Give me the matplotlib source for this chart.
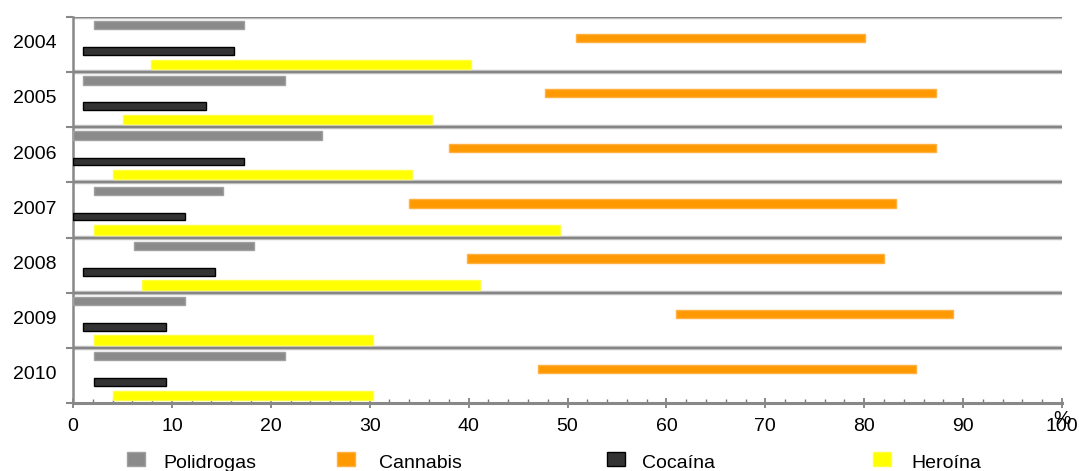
import matplotlib.pyplot as plt
from matplotlib.patches import Rectangle
from matplotlib.ticker import MultipleLocator

plt.rcParams['font.family'] = ['Liberation Sans', 'DejaVu Sans']

# Datos (rango min-max en % por año)
years = ['2004', '2005', '2006', '2007', '2008', '2009', '2010']
series = ['Polidrogas', 'Cannabis', 'Cocaína', 'Heroína']

poli_ini = [2.1, 1.0, 0.0, 2.1, 6.2, 0.0, 2.1]
poli_fin = [17.3, 21.4, 25.2, 15.2, 18.3, 11.3, 21.4]
cann_ini = [50.9, 47.7, 38.0, 34.0, 39.8, 61.0, 47.0]
cann_fin = [80.1, 87.3, 87.3, 83.2, 82.0, 89.0, 85.2]
coca_ini = [1.0, 1.0, 0.0, 0.0, 1.0, 1.0, 2.1]
coca_fin = [16.3, 13.4, 17.3, 11.3, 14.4, 9.4, 9.4]
hero_ini = [7.9, 5.1, 4.0, 2.1, 7.0, 2.1, 4.0]
hero_fin = [40.2, 36.3, 34.3, 49.2, 41.2, 30.3, 30.3]

colores = ['#8a8a8a', '#ff9900', '#333333', '#ffff00']
bordes = ['#a0a0a0', '#ffb040', '#000000', '#ffff40']
offsets = [-0.35, -0.12, 0.12, 0.36]
alturas = [0.15, 0.15, 0.14, 0.17]

fig = plt.figure(figsize=(10.79, 4.71), dpi=100)
ax = fig.add_axes([73 / 1079, 1 - 403 / 471, 989 / 1079, 386 / 471])

datos = [(poli_ini, poli_fin), (cann_ini, cann_fin), (coca_ini, coca_fin), (hero_ini, hero_fin)]
for k, (ini, fin) in enumerate(datos):
    ys = [i + offsets[k] for i in range(len(years))]
    ancho = [f - s for s, f in zip(ini, fin)]
    ax.barh(ys, ancho, left=ini, height=alturas[k], color=colores[k],
            edgecolor=bordes[k], linewidth=1.0, zorder=3)

# lineas de separacion entre años
for b in range(len(years)):
    ax.axhline(b - 0.5, color='#c4c4c4', lw=3.2, zorder=1)
    ax.axhline(b - 0.5, color='#858585', lw=1.6, zorder=2)

ax.set_xlim(0, 100)
ax.set_ylim(len(years) - 0.5, -0.5)

ax.spines['top'].set_visible(False)
ax.spines['right'].set_visible(False)
ax.spines['left'].set_color('#888888')
ax.spines['left'].set_linewidth(1.8)
ax.spines['bottom'].set_color('#888888')
ax.spines['bottom'].set_linewidth(2.2)

ax.xaxis.set_major_locator(MultipleLocator(10))
ax.xaxis.set_minor_locator(MultipleLocator(2))
ax.tick_params(axis='x', which='major', direction='inout', length=7, width=1.2,
               color='#777777', labelsize=14, pad=7)
ax.tick_params(axis='x', which='minor', direction='in', length=3, width=1.0, color='#777777')

ax.set_yticks([b - 0.5 for b in range(len(years) + 1)])
ax.set_yticklabels([])
ax.set_yticks([i - 0.05 for i in range(len(years))], minor=True)
ax.set_yticklabels(years, minor=True)
ax.tick_params(axis='y', which='major', direction='out', length=5, width=1.5, color='#888888')
ax.tick_params(axis='y', which='minor', length=0, labelsize=14, pad=12)

ax.text(1.0, -0.02, '%', transform=ax.transAxes, ha='center', va='top', fontsize=14)

# leyenda
pos_cuadro = [127, 337, 607, 873]
pos_texto = [163, 379, 642, 911]
for k, nombre in enumerate(series):
    fig.patches.append(Rectangle((pos_cuadro[k] / 1079, 1 - 466 / 471), 18 / 1079, 14 / 471,
                                 transform=fig.transFigure, facecolor=colores[k],
                                 edgecolor=bordes[k], lw=1.0))
    fig.text(pos_texto[k] / 1079, 1 - 464 / 471, nombre, fontsize=14, va='center', ha='left')

fig.savefig('out.png', dpi=100)
